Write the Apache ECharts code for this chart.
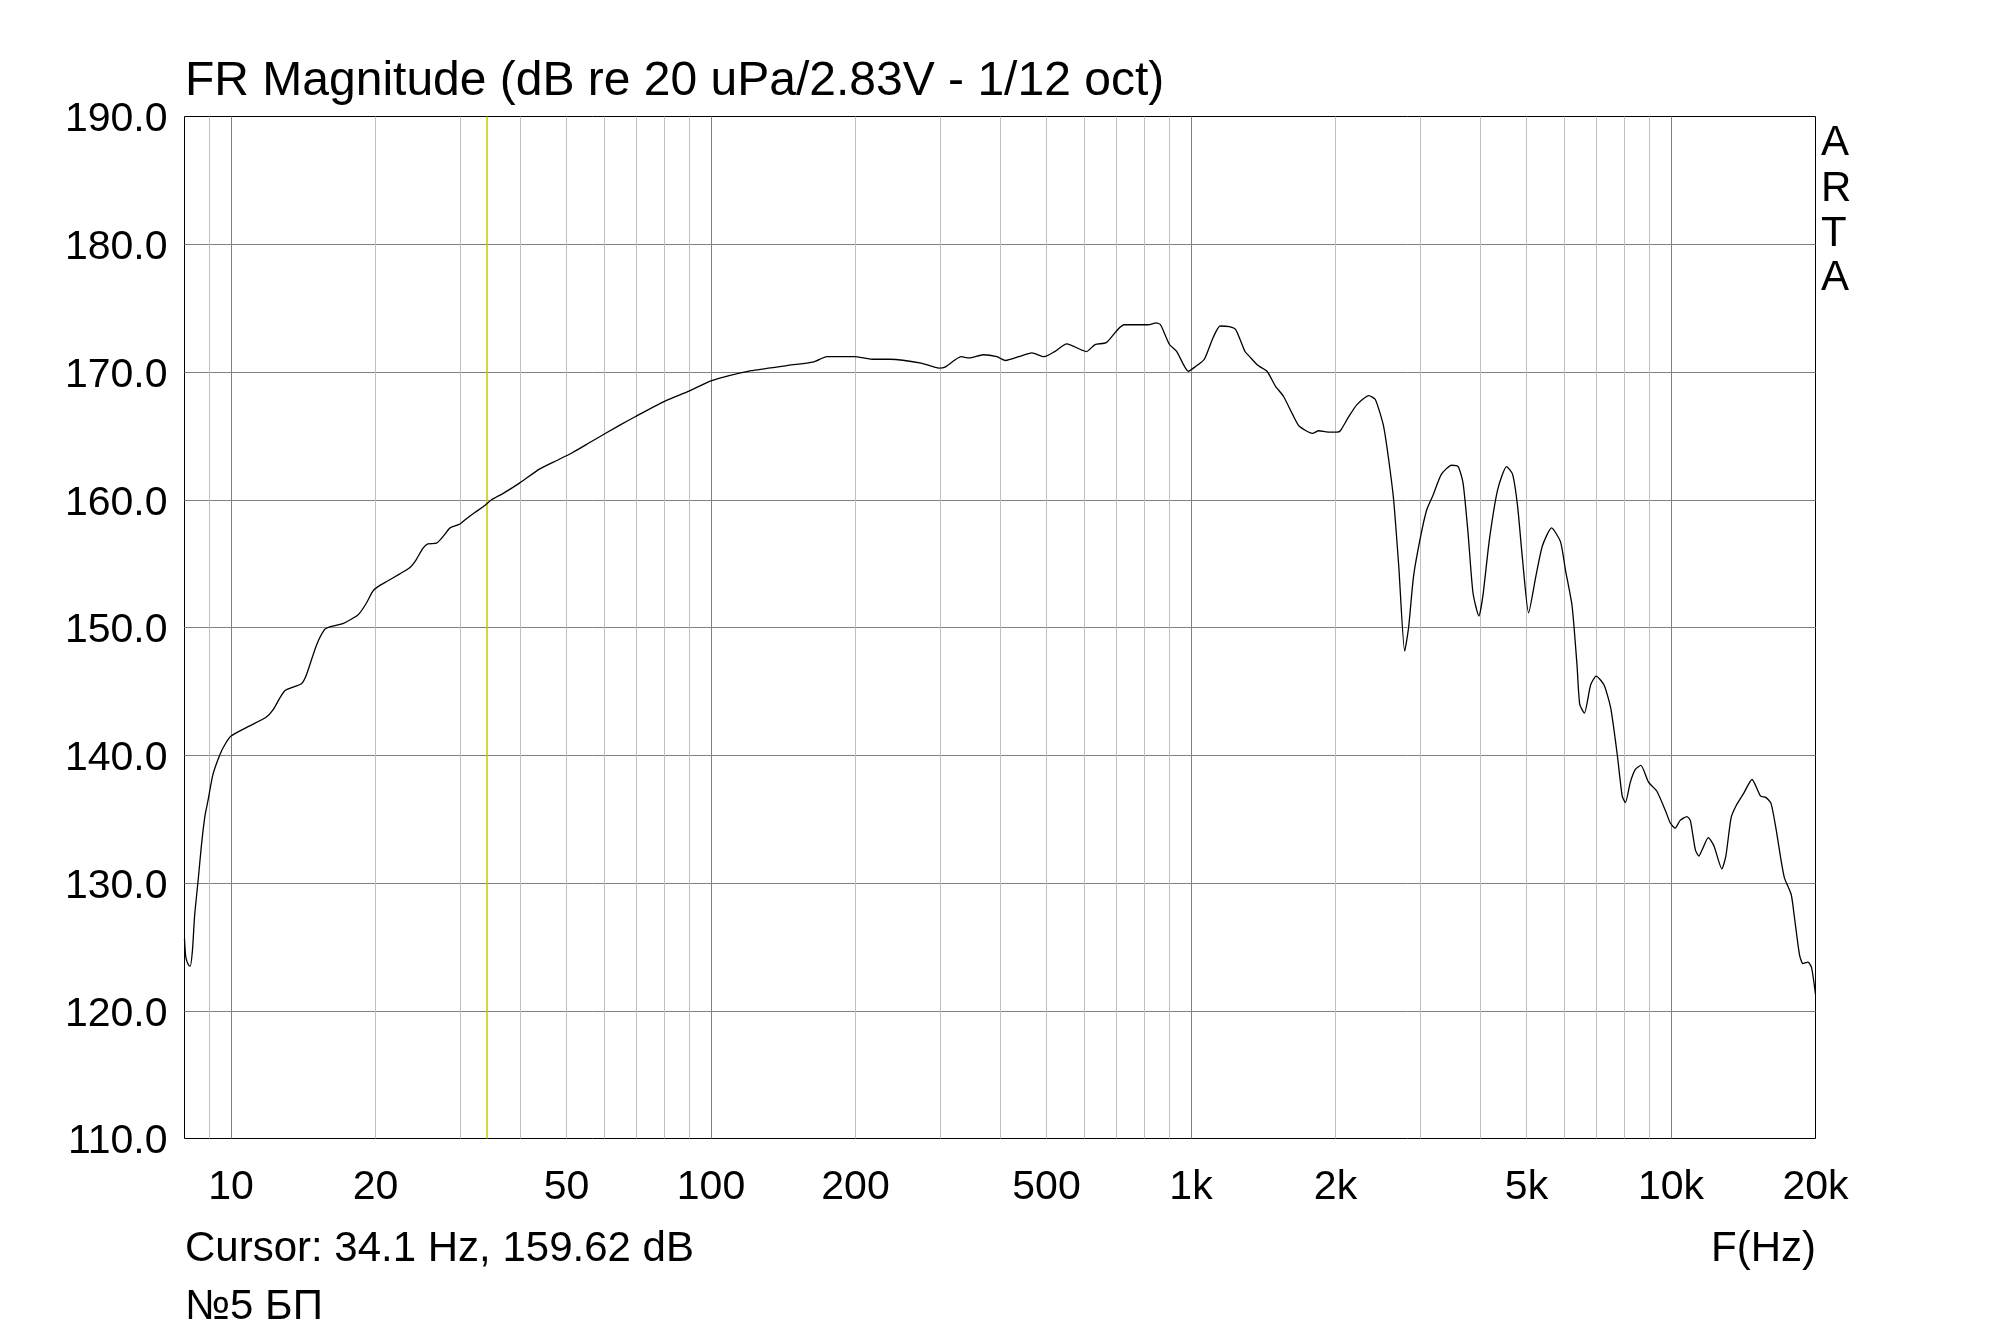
<!DOCTYPE html>
<html>
<head>
<meta charset="utf-8">
<script src="https://cdn.jsdelivr.net/npm/echarts@6/dist/echarts.min.js"></script>
<style>
html,body{margin:0;padding:0;background:#ffffff;}
#c{width:2000px;height:1331px;}
</style>
</head>
<body>
<div id="c"></div>
<script>
// ---- data ----
const freqHz = [
  8.0, 8.05, 8.15, 8.22, 8.31, 8.4, 8.54, 8.68, 8.82, 8.96, 9.17, 9.47, 9.70,
  10.0, 10.94, 11.85, 12.23, 12.94, 14.02, 14.36, 15.06, 15.67, 16.05, 17.1, 18.4,
  19.07, 19.75, 20.24, 21.1, 22.47, 23.6, 24.3, 25.1, 25.7, 26.8, 27.7, 28.6, 30.0,
  30.9, 32.2, 33.8, 34.9, 36.9, 39.9, 43.9, 48.2, 51.5, 56.6, 64.3, 69.5, 80.0, 90.0,
  100, 121.3, 143.9, 163.7, 174.5, 198.8, 216.6, 236, 274, 298.7, 308, 332, 345, 369,
  394, 411, 438, 466, 494, 520, 551, 606, 631, 666, 725, 814, 846, 864, 902, 934,
  987, 1020, 1066, 1112, 1150, 1202, 1240, 1296, 1325, 1380, 1440, 1499, 1558, 1627,
  1681, 1790, 1846, 1930, 2015, 2047, 2131, 2217, 2346, 2421, 2519, 2581, 2643, 2709,
  2787, 2840, 2908, 3000, 3097, 3196, 3325, 3490, 3602, 3688, 3777, 3868, 3979, 4055,
  4185, 4354, 4544, 4676, 4790, 4906, 5050, 5229, 5397, 5639, 5886, 6027, 6221, 6372,
  6453, 6600, 6800, 6985, 7253, 7488, 7730, 7913, 8035, 8228, 8428, 8653, 8977, 9338,
  9729, 9964, 10200, 10450, 10790, 10970, 11240, 11430, 11610, 11960, 12290, 12760,
  13010, 13340, 13690, 14160, 14750, 15370, 15750, 16150, 16540, 16950, 17230, 17800,
  18080, 18520, 18820, 19290, 19620, 20000
];
const magDb = [
  125.6, 124.2, 123.6, 123.5, 124.7, 127.5, 130.2, 133.0, 135.2, 136.5, 138.5, 140.0, 140.8,
  141.5, 142.3, 143.0, 143.55, 145.05, 145.6, 146.3, 148.6, 149.85, 150.05, 150.3, 151.0,
  151.8, 152.85, 153.2, 153.6, 154.2, 154.7, 155.3, 156.2, 156.55, 156.6, 157.15, 157.8, 158.1,
  158.5, 159.0, 159.55, 160.0, 160.5, 161.3, 162.4, 163.15, 163.7, 164.6, 165.8, 166.5, 167.7, 168.5,
  169.3, 170.1, 170.5, 170.8, 171.2, 171.2, 171.0, 171.0, 170.7, 170.3, 170.4, 171.2, 171.1, 171.35,
  171.2, 170.9, 171.2, 171.5, 171.2, 171.6, 172.2, 171.6, 172.15, 172.3, 173.7, 173.7, 173.85, 173.7, 172.15, 171.6,
  170.06, 170.4, 171.0, 172.7, 173.6, 173.55, 173.3, 171.6, 171.2, 170.5, 170.06, 168.9, 168.1, 166.7,
  165.75, 165.2, 165.4, 165.3, 165.3, 165.4, 166.5, 167.45, 168.15, 167.85, 165.75, 163.15, 160.0, 154.8,
  148.15, 150.0, 154.0, 156.9, 159.2, 160.4, 162.0, 162.7, 162.6, 161.3, 157.4, 152.7, 150.9, 152.45,
  156.9, 160.8, 162.6, 162.0, 159.5, 155.3, 151.15, 154.0, 156.4, 157.8, 156.7, 154.5, 151.7, 147.0,
  144.0, 143.3, 145.5, 146.2, 145.5, 143.7, 140.0, 136.8, 136.3, 137.9, 138.9, 139.2, 137.9, 137.2,
  135.7, 134.7, 134.3, 134.9, 135.2, 134.9, 132.6, 132.1, 132.6, 133.55, 132.9, 131.1,
  132.1, 135.1, 136.1, 137.0, 138.1, 136.8, 136.7, 136.25, 134.3, 131.8, 130.4, 129.1,
  127.3, 124.4, 123.7, 123.8, 123.4, 121.3
];
const xTickValues = [10, 20, 50, 100, 200, 500, 1000, 2000, 5000, 10000, 20000];
const xTickLabels = ['10', '20', '50', '100', '200', '500', '1k', '2k', '5k', '10k', '20k'];
const majorGridHz = [10, 100, 1000, 10000];
const minorGridHz = [9, 20, 30, 40, 50, 60, 70, 80, 90, 200, 300, 400, 500, 600, 700, 800, 900,
  2000, 3000, 4000, 5000, 6000, 7000, 8000, 9000];
const xMinHz = 8, xMaxHz = 20000;
const yMin = 110, yMax = 190, yStep = 10;
const cursorHz = 34.1, cursorDb = 159.62;
const titleText = 'FR Magnitude (dB re 20 uPa/2.83V - 1/12 oct)';
const sideText = ['A', 'R', 'T', 'A'];
const noteText = '№5 БП';
const xAxisName = 'F(Hz)';

// ---- chart ----
const FONT = '"Liberation Sans", Arial, Helvetica, sans-serif';
const chart = echarts.init(document.getElementById('c'), null, {renderer: 'canvas', width: 2000, height: 1331});

function vline(v, extra) {
  return [Object.assign({coord: [v, yMin]}, extra || {}), {coord: [v, yMax]}];
}
function txt(text, x, y, size, align) {
  return {
    type: 'text', x: x, y: y, silent: true,
    style: {
      text: text, fill: '#000', font: size + 'px ' + FONT,
      align: align || 'left', textAlign: align || 'left',
      verticalAlign: 'middle', textVerticalAlign: 'middle'
    }
  };
}

const gridTop = 116.5, gridLeft = 184.5, gridW = 1631, gridH = 1022;

const option = {
  animation: false,
  backgroundColor: '#ffffff',
  grid: {left: gridLeft, top: gridTop, width: gridW, height: gridH, show: true,
    borderColor: '#000', borderWidth: 1, backgroundColor: '#ffffff'},
  xAxis: {
    type: 'log', logBase: 10, min: xMinHz, max: xMaxHz,
    axisLine: {show: false}, axisTick: {show: false}, axisLabel: {show: false},
    splitLine: {show: false}, minorTick: {show: false}, minorSplitLine: {show: false}
  },
  yAxis: {
    type: 'value', min: yMin, max: yMax, interval: yStep,
    axisLine: {show: false}, axisTick: {show: false},
    axisLabel: {
      formatter: v => '{a|' + v.toFixed(1) + '}', margin: 17,
      rich: {a: {fontSize: 41, color: '#000', fontFamily: FONT, padding: [7, 0, 0, 0]}}
    },
    splitLine: {show: true, showMinLine: false, showMaxLine: false, lineStyle: {color: '#808080', width: 1}}
  },
  series: [
    {
      name: 'grid', type: 'line', data: [], z: 1, silent: true, clip: false,
      markLine: {
        silent: true, animation: false, symbol: ['none', 'none'], label: {show: false},
        emphasis: {disabled: true},
        data: minorGridHz.map(v => vline(v, {lineStyle: {color: '#c0c0c0', width: 1, type: 'solid'}}))
          .concat(majorGridHz.map(v => vline(v, {lineStyle: {color: '#808080', width: 1, type: 'solid'}})))
      }
    },
    {
      name: 'cursor', type: 'line', data: [], z: 2, silent: true, clip: false,
      markLine: {
        silent: true, animation: false, symbol: ['none', 'none'], label: {show: false},
        emphasis: {disabled: true},
        data: [vline(cursorHz, {lineStyle: {color: '#c8c800', width: 1.5, type: 'solid'}})]
      }
    },
    {
      name: 'ticks', type: 'line', data: [], z: 2, silent: true, clip: false,
      markLine: {
        silent: true, animation: false, symbol: ['none', 'none'],
        emphasis: {disabled: true},
        lineStyle: {color: 'rgba(0,0,0,0)', width: 0},
        label: {show: true, position: 'start', distance: 29, formatter: '{b}',
          color: '#000', fontSize: 41, fontFamily: FONT},
        data: xTickValues.map((v, i) => vline(v, {name: xTickLabels[i]}))
      }
    },
    {
      name: 'FR', type: 'line', z: 5, clip: true,
      data: freqHz.map((f, i) => [f, magDb[i]]),
      showSymbol: false, symbol: 'none', smooth: 0.2,
      lineStyle: {color: '#000', width: 1.3}
    }
  ],
  graphic: [
    txt(titleText, 185, 82, 48, 'left'),
    txt(sideText[0], 1821, 143, 42, 'left'),
    txt(sideText[1], 1821, 189, 42, 'left'),
    txt(sideText[2], 1821, 234, 42, 'left'),
    txt(sideText[3], 1821, 278, 42, 'left'),
    txt('Cursor: ' + cursorHz.toFixed(1) + ' Hz, ' + cursorDb.toFixed(2) + ' dB', 185, 1249, 42, 'left'),
    txt(xAxisName, 1816, 1249, 42, 'right'),
    txt(noteText, 185, 1307, 42, 'left')
  ]
};
chart.setOption(option);
</script>
</body>
</html>
